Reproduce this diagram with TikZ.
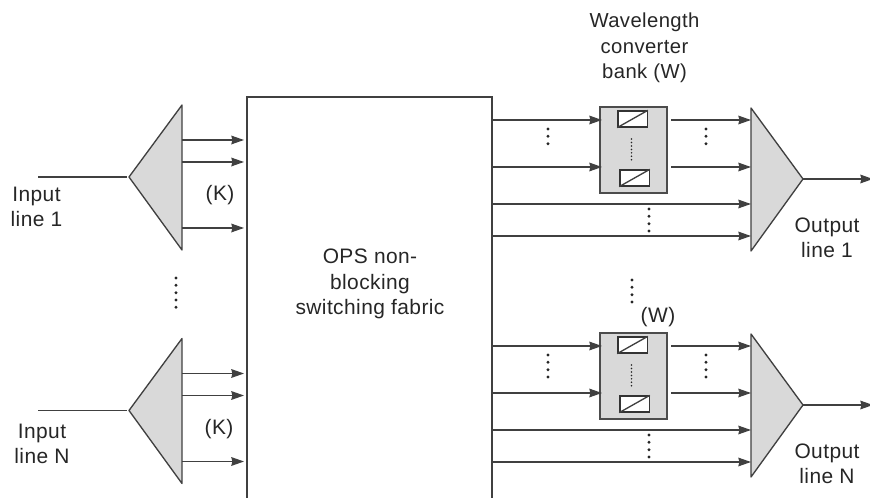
\documentclass[tikz,border=0pt]{standalone}
\usepackage{fontspec}
\setmainfont[LetterSpace=2]{Liberation Sans}
\usetikzlibrary{arrows.meta}

\tikzset{
    wire/.style={draw=black!75, line width=1pt},
    sig/.style={wire, -{Stealth[length=9.5pt,width=6.5pt,inset=0.8pt]}},
    wedge/.style={draw=black!75, fill=black!15, line width=1pt, line join=round},
    bigdots/.style={line width=2.4pt, line cap=round, black!85, dash pattern=on 0pt off 5.5pt},
    finedots/.style={line width=1.3pt, line cap=round, black!85, dash pattern=on 0pt off 2.6pt},
    bank/.style={draw=black!70, fill=black!15, line width=1.1pt, minimum width=50pt, minimum height=64.5pt, inner sep=0pt},
    conv/.style={draw=black!80, fill=white, line width=1pt, minimum width=22pt, minimum height=12pt, inner sep=0pt},
    lbl/.style={font=\fontsize{15.7}{19}\selectfont, align=center, black!85, inner sep=0pt}
}

\begin{document}
\begin{tikzpicture}[x=0.75pt, y=-0.75pt]
    \useasboundingbox (0,0) rectangle (870,498);

    % fabric
    \coordinate (fabBL) at (247,498);
    \coordinate (fabTL) at (247,97);
    \coordinate (fabTR) at (492,97);
    \coordinate (fabBR) at (492,498);
    \draw[wire] (fabBL) -- (fabTL) -- (fabTR) -- (fabBR);
    \node[lbl] (fabric) at (370,284) {OPS non-\\blocking\\switching fabric};

    % input side
    \foreach \p/\o/\t in {a/0/1,b/233.5/N}{
        \coordinate (\p apex) at (129,177+\o);
        \coordinate (\p top) at (182,105+\o);
        \coordinate (\p bot) at (182,250+\o);
        \coordinate (\p lin) at (38,177+\o);
        \coordinate (\p gap) at (127,177+\o);
        \draw[wire] (\p lin) -- (\p gap);
        \draw[wedge] (\p apex) -- (\p top) -- (\p bot) -- cycle;
        \foreach \n/\y in {1/140,2/162,3/228}{
            \coordinate (\p s\n) at (182,\y+\o);
            \coordinate (\p e\n) at (244,\y+\o);
            \draw[sig] (\p s\n) -- (\p e\n);
        }
    }
    \coordinate (dotsL1) at (176,278);
    \coordinate (dotsL2) at (176,309);
    \draw[bigdots] (dotsL1) -- (dotsL2);

    % output side
    \foreach \p/\o in {c/0,d/226}{
        \node[bank] (\p bank) at (633.5,150+\o) {};
        \node[conv] (\p convA) at (632.5,119+\o) {};
        \node[conv] (\p convB) at (634.5,178+\o) {};
        \draw[wire] (\p convA.south west) -- (\p convA.north east);
        \draw[wire] (\p convB.south west) -- (\p convB.north east);
        \coordinate (\p fine1) at (631.5,139+\o);
        \coordinate (\p fine2) at (631.5,163+\o);
        \draw[finedots] (\p fine1) -- (\p fine2);

        \coordinate (\p apex) at (803,179+\o);
        \coordinate (\p top) at (751,108+\o);
        \coordinate (\p bot) at (751,251+\o);
        \coordinate (\p out) at (873,179+\o);
        \draw[sig] (\p apex) -- (\p out);
        \draw[wedge] (\p apex) -- (\p top) -- (\p bot) -- cycle;

        \foreach \n/\y in {1/120,2/167}{
            \coordinate (\p i\n) at (492,\y+\o);
            \coordinate (\p j\n) at (602,\y+\o);
            \coordinate (\p k\n) at (671,\y+\o);
            \coordinate (\p m\n) at (751,\y+\o);
            \draw[sig] (\p i\n) -- (\p j\n);
            \draw[sig] (\p k\n) -- (\p m\n);
        }
        \foreach \n/\y in {3/204,4/236}{
            \coordinate (\p i\n) at (492,\y+\o);
            \coordinate (\p m\n) at (751,\y+\o);
            \draw[sig] (\p i\n) -- (\p m\n);
        }
        \foreach \n/\x/\ya/\yb in {1/548/129/151,2/706/129/151,3/649/209/237}{
            \coordinate (\p dotA\n) at (\x,\ya+\o);
            \coordinate (\p dotB\n) at (\x,\yb+\o);
            \draw[bigdots] (\p dotA\n) -- (\p dotB\n);
        }
    }
    \coordinate (dotsR1) at (632,280);
    \coordinate (dotsR2) at (632,309);
    \draw[bigdots] (dotsR1) -- (dotsR2);

    % labels
    \node[lbl] (inA) at (36.5,207) {Input\\line 1};
    \node[lbl] (inB) at (42,444) {Input\\line N};
    \node[lbl] (kA) at (220,195) {(K)};
    \node[lbl] (kB) at (219,429) {(K)};
    \node[lbl] (outA) at (827,238) {Output\\line 1};
    \node[lbl] (outB) at (827,464) {Output\\line N};
    \node[lbl, font=\fontsize{15.2}{19}\selectfont] (wA) at (644.5,48) {Wavelength\\converter\\bank (W)};
    \node[lbl] (wB) at (658,317) {(W)};
\end{tikzpicture}
\end{document}
